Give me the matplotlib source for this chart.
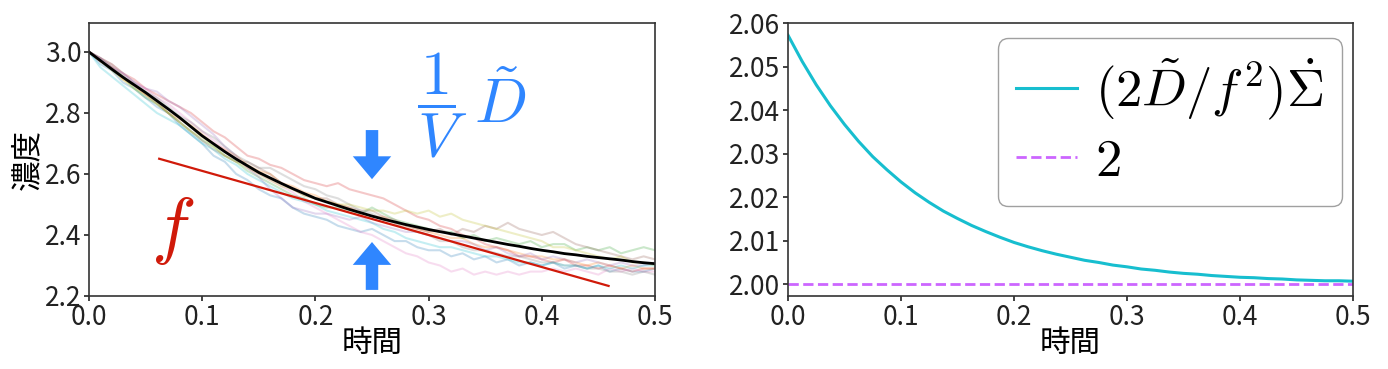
import matplotlib
matplotlib.use("Agg")
import matplotlib.pyplot as plt
import numpy as np

plt.rcParams['font.family'] = ['Liberation Sans Narrow', 'Noto Sans CJK JP', 'DejaVu Sans']
plt.rcParams['mathtext.fontset'] = 'cm'

# time grid for the sampled trajectories (step 0.01)
t = np.linspace(0, 0.5, 51)

mean_conc = [3.000, 2.972, 2.944, 2.917, 2.892, 2.867, 2.840, 2.813, 2.785, 2.755,
             2.725, 2.699, 2.673, 2.649, 2.627, 2.605, 2.587, 2.569, 2.552, 2.536,
             2.520, 2.508, 2.496, 2.484, 2.473, 2.462, 2.452, 2.443, 2.434, 2.426,
             2.418, 2.411, 2.404, 2.397, 2.390, 2.383, 2.376, 2.369, 2.363, 2.356,
             2.350, 2.345, 2.339, 2.335, 2.330, 2.326, 2.322, 2.318, 2.313, 2.309, 2.306]

traj0 = [3.00, 2.96, 2.94, 2.90, 2.88, 2.85, 2.82, 2.80, 2.76, 2.73, 2.70, 2.66, 2.64, 2.60, 2.58, 2.55, 2.53,
         2.52, 2.49, 2.47, 2.46, 2.45, 2.43, 2.42, 2.41, 2.42, 2.40, 2.38, 2.38, 2.36, 2.35, 2.35, 2.33, 2.34,
         2.32, 2.33, 2.31, 2.32, 2.30, 2.31, 2.30, 2.31, 2.29, 2.30, 2.29, 2.30, 2.28, 2.29, 2.28, 2.28, 2.29]
traj1 = [3.00, 2.97, 2.95, 2.91, 2.89, 2.86, 2.84, 2.80, 2.78, 2.76, 2.73, 2.70, 2.68, 2.66, 2.63, 2.61, 2.60,
         2.57, 2.56, 2.54, 2.53, 2.51, 2.50, 2.49, 2.47, 2.46, 2.46, 2.44, 2.43, 2.42, 2.41, 2.40, 2.39, 2.39,
         2.37, 2.36, 2.36, 2.35, 2.34, 2.33, 2.33, 2.32, 2.32, 2.31, 2.30, 2.31, 2.30, 2.29, 2.30, 2.29, 2.29]
traj2 = [3.00, 2.98, 2.95, 2.92, 2.88, 2.85, 2.83, 2.80, 2.77, 2.74, 2.71, 2.69, 2.66, 2.64, 2.61, 2.59, 2.57,
         2.55, 2.53, 2.52, 2.50, 2.49, 2.49, 2.48, 2.47, 2.49, 2.47, 2.45, 2.44, 2.43, 2.42, 2.41, 2.41, 2.39,
         2.40, 2.38, 2.39, 2.38, 2.37, 2.38, 2.36, 2.37, 2.37, 2.35, 2.36, 2.35, 2.36, 2.34, 2.35, 2.36, 2.35]
traj3 = [3.00, 2.98, 2.96, 2.93, 2.91, 2.88, 2.86, 2.84, 2.82, 2.80, 2.77, 2.74, 2.72, 2.69, 2.66, 2.65, 2.63,
         2.62, 2.60, 2.58, 2.57, 2.56, 2.57, 2.55, 2.54, 2.53, 2.52, 2.50, 2.48, 2.46, 2.45, 2.43, 2.42, 2.40,
         2.39, 2.37, 2.36, 2.35, 2.33, 2.33, 2.32, 2.31, 2.32, 2.30, 2.30, 2.29, 2.30, 2.29, 2.28, 2.29, 2.29]
traj4 = [3.00, 2.98, 2.95, 2.93, 2.90, 2.88, 2.87, 2.84, 2.82, 2.79, 2.76, 2.73, 2.69, 2.66, 2.62, 2.59, 2.55,
         2.52, 2.49, 2.48, 2.47, 2.47, 2.46, 2.45, 2.46, 2.44, 2.43, 2.42, 2.41, 2.41, 2.40, 2.39, 2.38, 2.38,
         2.37, 2.35, 2.36, 2.34, 2.33, 2.34, 2.32, 2.33, 2.32, 2.31, 2.32, 2.31, 2.30, 2.31, 2.30, 2.30, 2.31]
traj5 = [3.00, 2.97, 2.95, 2.92, 2.89, 2.86, 2.83, 2.80, 2.77, 2.74, 2.71, 2.68, 2.66, 2.64, 2.64, 2.62, 2.60,
         2.57, 2.55, 2.53, 2.52, 2.52, 2.50, 2.49, 2.48, 2.48, 2.46, 2.45, 2.43, 2.42, 2.41, 2.42, 2.40, 2.42,
         2.41, 2.43, 2.42, 2.44, 2.42, 2.41, 2.40, 2.41, 2.39, 2.37, 2.36, 2.35, 2.34, 2.33, 2.32, 2.33, 2.32]
traj6 = [3.00, 2.98, 2.95, 2.93, 2.90, 2.88, 2.85, 2.83, 2.80, 2.77, 2.74, 2.71, 2.68, 2.65, 2.62, 2.60, 2.58,
         2.56, 2.54, 2.51, 2.49, 2.47, 2.45, 2.43, 2.41, 2.40, 2.38, 2.36, 2.34, 2.33, 2.31, 2.30, 2.28, 2.29,
         2.27, 2.28, 2.27, 2.28, 2.27, 2.28, 2.28, 2.29, 2.28, 2.29, 2.28, 2.27, 2.29, 2.28, 2.29, 2.28, 2.28]
traj7 = [3.00, 2.98, 2.96, 2.93, 2.90, 2.87, 2.85, 2.82, 2.79, 2.77, 2.74, 2.72, 2.69, 2.66, 2.64, 2.62, 2.62,
         2.60, 2.58, 2.56, 2.55, 2.53, 2.52, 2.50, 2.48, 2.47, 2.45, 2.44, 2.42, 2.41, 2.40, 2.38, 2.38, 2.36,
         2.35, 2.35, 2.34, 2.33, 2.33, 2.32, 2.31, 2.31, 2.30, 2.30, 2.29, 2.29, 2.28, 2.28, 2.27, 2.28, 2.27]
traj8 = [3.00, 2.97, 2.94, 2.91, 2.88, 2.86, 2.83, 2.80, 2.77, 2.74, 2.72, 2.69, 2.66, 2.64, 2.62, 2.60, 2.58,
         2.56, 2.55, 2.53, 2.52, 2.51, 2.50, 2.50, 2.49, 2.48, 2.48, 2.47, 2.48, 2.47, 2.48, 2.46, 2.47, 2.45,
         2.44, 2.43, 2.42, 2.41, 2.40, 2.39, 2.38, 2.36, 2.36, 2.35, 2.34, 2.33, 2.32, 2.33, 2.31, 2.31, 2.30]
traj9 = [3.00, 2.95, 2.92, 2.89, 2.86, 2.83, 2.80, 2.78, 2.76, 2.73, 2.70, 2.68, 2.65, 2.63, 2.60, 2.58, 2.56,
         2.54, 2.52, 2.51, 2.50, 2.48, 2.47, 2.46, 2.45, 2.44, 2.42, 2.41, 2.39, 2.38, 2.37, 2.36, 2.36, 2.35,
         2.34, 2.33, 2.33, 2.32, 2.31, 2.31, 2.30, 2.31, 2.30, 2.30, 2.29, 2.30, 2.29, 2.30, 2.29, 2.30, 2.30]
trajs = [traj0, traj1, traj2, traj3, traj4, traj5, traj6, traj7, traj8, traj9]

# tangent line endpoints (time, conc)
tangent_t = [0.062, 0.459]
tangent_c = [2.650, 2.233]

# right panel, step 0.0125
t2 = np.linspace(0, 0.5, 41)
sigma_dot = [2.0572, 2.0512, 2.0458, 2.0410, 2.0367, 2.0328, 2.0293, 2.0263, 2.0235, 2.0210,
             2.0188, 2.0168, 2.0151, 2.0135, 2.0121, 2.0108, 2.0096, 2.0086, 2.0077, 2.0069,
             2.0062, 2.0055, 2.0050, 2.0044, 2.0040, 2.0035, 2.0032, 2.0028, 2.0025, 2.0023,
             2.0020, 2.0018, 2.0016, 2.0015, 2.0013, 2.0012, 2.0010, 2.0009, 2.0008, 2.0008, 2.0007]
baseline = 2.0

tab10 = plt.cm.tab10.colors
blue = '#2f86ff'
red = '#d01a0a'

fig = plt.figure(figsize=(13.88, 3.69), dpi=100)
ax1 = fig.add_axes([89/1388, 73/369, 566/1388, 273/369])
ax2 = fig.add_axes([788/1388, 73/369, 565/1388, 273/369])

for i, tr in enumerate(trajs):
    ax1.plot(t, tr, color=tab10[i], alpha=0.25, lw=1.5)
ax1.plot(t, mean_conc, color='black', lw=2)
ax1.plot(tangent_t, tangent_c, color=red, lw=1.6)

ax1.arrow(0.25, 2.744, 0, -0.161, width=0.011, head_width=0.034, head_length=0.075,
          length_includes_head=True, color=blue, lw=0)
ax1.arrow(0.25, 2.22, 0, 0.157, width=0.011, head_width=0.034, head_length=0.075,
          length_includes_head=True, color=blue, lw=0)
ax1.text(0.3123, 2.826, r'$\dfrac{1}{V}$', color=blue, fontsize=45,
         ha='center', va='center')
ax1.text(0.363, 2.767, r'$\tilde{D}$', color=blue, fontsize=45,
         ha='center', va='baseline')
ax1.text(0.074, 2.42, r'$f$', color=red, fontsize=54, ha='center', va='center')

ax1.set_xlim(0, 0.5)
ax1.set_ylim(2.2, 3.095)
ax1.set_xticks([0.0, 0.1, 0.2, 0.3, 0.4, 0.5])
ax1.set_yticks([2.2, 2.4, 2.6, 2.8, 3.0])
ax1.set_xlabel('時間', fontsize=22, labelpad=-2)
ax1.set_ylabel('濃度', fontsize=22, labelpad=1)

ax2.plot(t2, sigma_dot, color='#17becf', lw=2.2, label=r'$(2\tilde{D}/f^2)\dot{\Sigma}$')
ax2.plot([0, 0.5], [baseline, baseline], color='#cc66ff', lw=2, ls='--', label=r'$2$')
ax2.set_xlim(0, 0.5)
ax2.set_ylim(1.9973, 2.06)
ax2.set_xticks([0.0, 0.1, 0.2, 0.3, 0.4, 0.5])
ax2.set_yticks([2.00, 2.01, 2.02, 2.03, 2.04, 2.05, 2.06])
ax2.set_xlabel('時間', fontsize=22, labelpad=-2)
leg = ax2.legend(loc='upper right', bbox_to_anchor=(0.981, 0.945), borderaxespad=0,
                 fontsize=38, handlelength=1.15, handletextpad=0.35, borderpad=0.35,
                 labelspacing=0.2, fancybox=True, edgecolor='#888888')

for ax in (ax1, ax2):
    ax.tick_params(labelsize=19, colors='#222222', width=1.2, pad=2)
    for s in ax.spines.values():
        s.set_linewidth(1.2)
        s.set_color('#333333')

fig.savefig('out.png', dpi=100)
